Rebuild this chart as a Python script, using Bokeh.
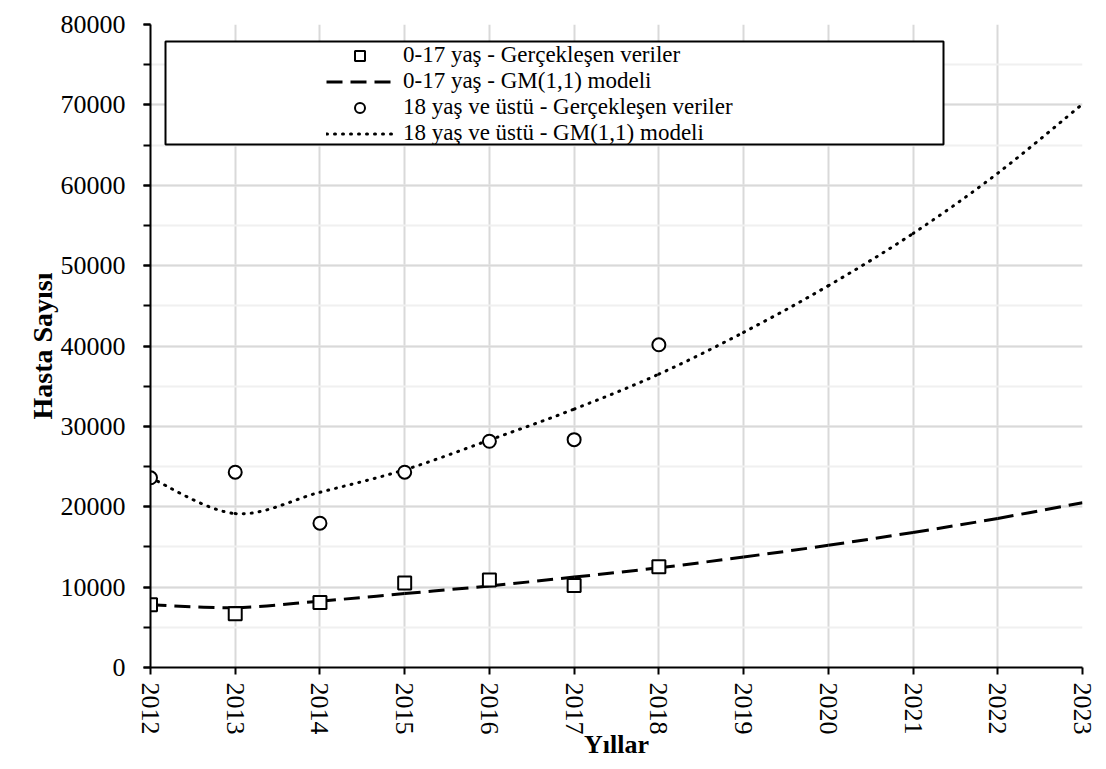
from bokeh.plotting import figure
from bokeh.models import (Range1d, FixedTicker, SingleIntervalTicker, ColumnDataSource,
                          Legend, LegendItem, BoxAnnotation)
from bokeh.embed import file_html
from bokeh.resources import INLINE

# ---- data ----
obs_years = [2012, 2013, 2014, 2015, 2016, 2017, 2018]
model_years = [2012, 2013, 2014, 2015, 2016, 2017, 2018, 2019, 2020, 2021, 2022, 2023]

child_actual = [7800, 6700, 8100, 10500, 10900, 10200, 12550]
adult_actual = [23600, 24300, 17950, 24300, 28150, 28350, 40150]

child_model = [7800, 7450, 8250, 9200, 10150, 11250, 12400, 13750, 15200, 16800, 18550, 20500]
adult_model = [23600, 19150, 21800, 24600, 28300, 32150, 36500, 41700, 47500, 54000, 61500, 70100]

labels = ["0-17 yaş - Gerçekleşen veriler",
          "0-17 yaş - GM(1,1) modeli",
          "18 yaş ve üstü - Gerçekleşen veriler",
          "18 yaş ve üstü - GM(1,1) modeli"]

x_label = "Yıllar"
y_label = "Hasta Sayısı"

FONT = "Liberation Serif"


def smooth_source(xs, ys):
    """Bezier control points for a smoothed line (like a spreadsheet 'smoothed line')."""
    n = len(xs)
    d = dict(x0=[], y0=[], x1=[], y1=[], cx0=[], cy0=[], cx1=[], cy1=[])
    for i in range(n - 1):
        im, i1, i2 = max(i - 1, 0), i + 1, min(i + 2, n - 1)
        d["x0"].append(xs[i]); d["y0"].append(ys[i])
        d["x1"].append(xs[i1]); d["y1"].append(ys[i1])
        d["cx0"].append(xs[i] + (xs[i1] - xs[im]) / 6.0)
        d["cy0"].append(ys[i] + (ys[i1] - ys[im]) / 6.0)
        d["cx1"].append(xs[i1] - (xs[i2] - xs[i]) / 6.0)
        d["cy1"].append(ys[i1] - (ys[i2] - ys[i]) / 6.0)
    return ColumnDataSource(d)


p = figure(width=1098, height=761, output_backend="svg", toolbar_location=None,
           x_range=Range1d(2012, 2023), y_range=Range1d(0, 80000),
           min_border_left=150, min_border_right=16, min_border_top=24, min_border_bottom=94)
p.outline_line_color = None
p.background_fill_color = "white"
p.border_fill_color = "white"

# outer chart-area border (light grey)
outer = BoxAnnotation(left=-142, right=953, bottom=-102, top=663,
                      left_units="screen", right_units="screen",
                      top_units="screen", bottom_units="screen",
                      fill_alpha=0, line_color="#d9d9d9", line_width=2,
                      level="underlay")
p.add_layout(outer)

# grids
p.xgrid.grid_line_color = "#d9d9d9"
p.xgrid.grid_line_width = 2
p.ygrid.grid_line_color = "#d9d9d9"
p.ygrid.grid_line_width = 2
p.ygrid.minor_grid_line_color = "#f0f0f0"
p.ygrid.minor_grid_line_width = 2

# axes
p.xaxis.ticker = FixedTicker(ticks=model_years)
p.yaxis.ticker = SingleIntervalTicker(interval=10000, num_minor_ticks=2)
p.ygrid.ticker = p.yaxis.ticker
p.xaxis.major_label_orientation = "vertical"
for ax in (p.xaxis, p.yaxis):
    ax.axis_line_color = "black"
    ax.axis_line_width = 2
    ax.major_tick_line_color = "black"
    ax.major_tick_line_width = 2
    ax.major_tick_in = 0
    ax.major_tick_out = 7
    ax.major_label_text_font = FONT
    ax.major_label_text_font_size = "26px"
    ax.major_label_text_color = "black"
    ax.axis_label_text_font = FONT
    ax.axis_label_text_font_style = "bold"
    ax.axis_label_text_color = "black"
p.xaxis.axis_label_text_font_size = "26px"
p.yaxis.axis_label_text_font_size = "28px"
p.xaxis.minor_tick_line_color = None
p.yaxis.minor_tick_line_color = "black"
p.yaxis.minor_tick_line_width = 2
p.yaxis.minor_tick_in = 0
p.yaxis.minor_tick_out = 7
p.xaxis.major_label_standoff = 8
p.yaxis.major_label_standoff = 18
p.xaxis.axis_label = x_label
p.yaxis.axis_label = y_label
p.xaxis.axis_label_standoff = -8
p.yaxis.axis_label_standoff = 0

# model curves (smoothed)
r_cm = p.bezier(x0="x0", y0="y0", x1="x1", y1="y1", cx0="cx0", cy0="cy0", cx1="cx1", cy1="cy1",
                source=smooth_source(model_years, child_model),
                line_color="black", line_width=3, line_dash="16 8")
r_am = p.bezier(x0="x0", y0="y0", x1="x1", y1="y1", cx0="cx0", cy0="cy0", cx1="cx1", cy1="cy1",
                source=smooth_source(model_years, adult_model),
                line_color="black", line_width=3, line_dash="1 7", line_cap="round")

# observed points
r_ca = p.scatter(obs_years, child_actual, marker="square", size=13,
                 fill_color="white", line_color="black", line_width=2)
r_aa = p.scatter(obs_years, adult_actual, marker="circle", size=13,
                 fill_color="white", line_color="black", line_width=2)

# legend frame
box = BoxAnnotation(left=15, right=793, bottom=523, top=626,
                    left_units="screen", right_units="screen",
                    top_units="screen", bottom_units="screen",
                    fill_color="white", fill_alpha=1.0,
                    line_color="black", line_width=2, line_alpha=1.0)
p.add_layout(box)

legend = Legend(items=[LegendItem(label=labels[0], renderers=[r_ca]),
                       LegendItem(label=labels[1], renderers=[r_cm]),
                       LegendItem(label=labels[2], renderers=[r_aa]),
                       LegendItem(label=labels[3], renderers=[r_am])],
                location=(176, 521), orientation="vertical",
                glyph_width=67, glyph_height=25, label_height=25,
                label_standoff=10, spacing=0, padding=1, margin=0,
                border_line_color=None, background_fill_alpha=0,
                label_text_font=FONT, label_text_font_size="23px",
                label_text_color="black")
p.add_layout(legend)

open("out.html", "w").write(file_html(p, INLINE))
